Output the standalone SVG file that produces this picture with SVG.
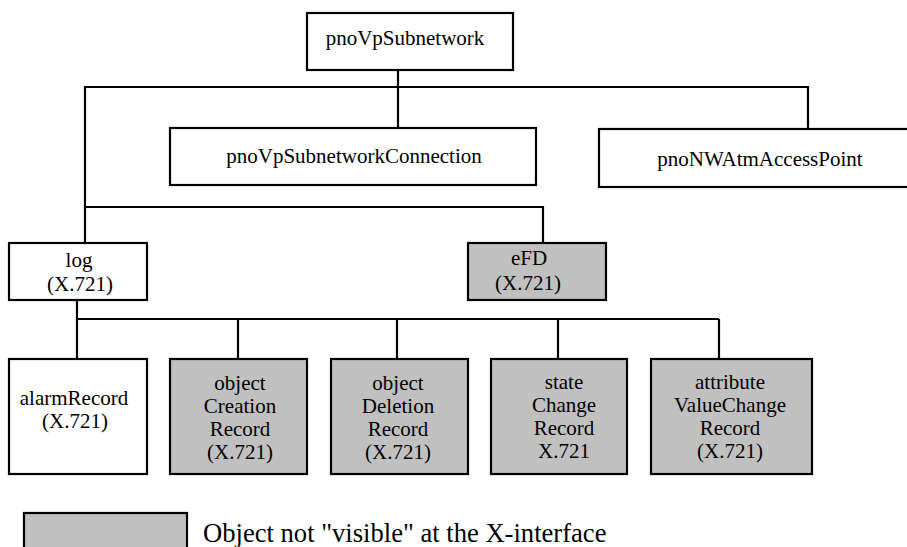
<svg xmlns="http://www.w3.org/2000/svg" width="907" height="547" viewBox="0 0 907 547">
<style>
.box{fill:#ffffff;stroke:#000;stroke-width:2.2}
.grey{fill:#c0c0c0;stroke:#000;stroke-width:2.2}
.t{font-family:'Liberation Serif','Times New Roman',serif;font-size:21px;fill:#000;text-anchor:middle}
.leg{font-family:'Liberation Serif','Times New Roman',serif;font-size:26.6px;fill:#000}
.c{stroke:#000;stroke-width:2.2;fill:none}
</style>
<rect width="907" height="547" fill="#fff"/>
<g id="connectors">
<line class="c" x1="398" y1="70" x2="398" y2="128"/>
<polyline class="c" points="85,243 85,87 808,87 808,129"/>
<polyline class="c" points="85,207 543,207 543,243"/>
<line class="c" x1="77" y1="300" x2="77" y2="359"/>
<line class="c" x1="77" y1="319" x2="719" y2="319"/>
<line class="c" x1="238" y1="319" x2="238" y2="359"/>
<line class="c" x1="397" y1="319" x2="397" y2="359"/>
<line class="c" x1="558" y1="319" x2="558" y2="359"/>
<line class="c" x1="719" y1="319" x2="719" y2="359"/>
</g>
<g id="pnoVpSubnetwork">
<rect class="box" x="307" y="13" width="206" height="57"/>
<text class="t" x="405" y="45">pnoVpSubnetwork</text>
</g>
<g id="pnoVpSubnetworkConnection">
<rect class="box" x="170" y="128" width="366" height="57"/>
<text class="t" x="354" y="163">pnoVpSubnetworkConnection</text>
</g>
<g id="pnoNWAtmAccessPoint">
<rect class="box" x="599" y="129" width="310" height="58"/>
<text class="t" x="760" y="166">pnoNWAtmAccessPoint</text>
</g>
<g id="log">
<rect class="box" x="9" y="243" width="138" height="57"/>
<text class="t" x="79" y="267">log</text>
<text class="t" x="80" y="291">(X.721)</text>
</g>
<g id="eFD">
<rect class="grey" x="468" y="243" width="138" height="57"/>
<text class="t" x="529" y="265">eFD</text>
<text class="t" x="528" y="290">(X.721)</text>
</g>
<g id="alarmRecord">
<rect class="box" x="9" y="359" width="138" height="115"/>
<text class="t" x="74" y="405">alarmRecord</text>
<text class="t" x="75" y="428">(X.721)</text>
</g>
<g id="objectCreationRecord">
<rect class="grey" x="170" y="359" width="137" height="115"/>
<text class="t" x="240" y="390">object</text>
<text class="t" x="240" y="413">Creation</text>
<text class="t" x="240" y="436">Record</text>
<text class="t" x="240" y="459">(X.721)</text>
</g>
<g id="objectDeletionRecord">
<rect class="grey" x="331" y="359" width="137" height="115"/>
<text class="t" x="398" y="390">object</text>
<text class="t" x="398" y="413">Deletion</text>
<text class="t" x="398" y="436">Record</text>
<text class="t" x="398" y="459">(X.721)</text>
</g>
<g id="stateChangeRecord">
<rect class="grey" x="491" y="359" width="136" height="115"/>
<text class="t" x="564" y="389">state</text>
<text class="t" x="564" y="412">Change</text>
<text class="t" x="564" y="435">Record</text>
<text class="t" x="564" y="458">X.721</text>
</g>
<g id="attributeValueChangeRecord">
<rect class="grey" x="651" y="359" width="161" height="115"/>
<text class="t" x="730" y="389">attribute</text>
<text class="t" x="730" y="412">ValueChange</text>
<text class="t" x="730" y="435">Record</text>
<text class="t" x="730" y="458">(X.721)</text>
</g>
<g id="legend">
<rect class="grey" x="24" y="513" width="163" height="40"/>
<text class="leg" x="203" y="542">Object not "visible" at the X-interface</text>
</g>
</svg>
